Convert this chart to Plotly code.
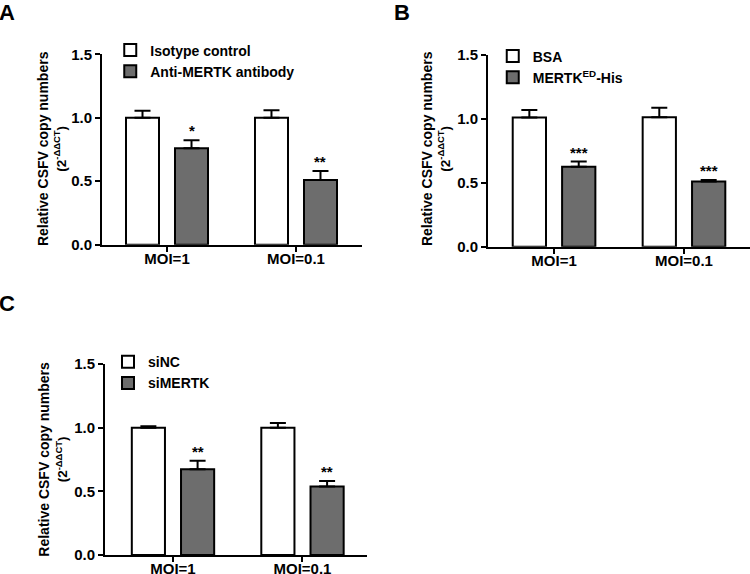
import plotly.graph_objects as go

# ---------------- data ----------------
categories = ["MOI=1", "MOI=0.1"]

a_names = ["Isotype control", "Anti-MERTK antibody"]
a_ctrl = [1.0, 1.0]
a_ctrl_err = [0.055, 0.06]
a_trt = [0.76, 0.51]
a_trt_err = [0.062, 0.07]
a_sig = ["*", "**"]

b_names = ["BSA", "MERTK<sup>ED</sup>-His"]
b_ctrl = [1.01, 1.012]
b_ctrl_err = [0.06, 0.076]
b_trt = [0.626, 0.51]
b_trt_err = [0.04, 0.012]
b_sig = ["***", "***"]

c_names = ["siNC", "siMERTK"]
c_ctrl = [1.0, 1.0]
c_ctrl_err = [0.01, 0.037]
c_trt = [0.673, 0.537]
c_trt_err = [0.068, 0.045]
c_sig = ["**", "**"]

y_ticks = [0, 0.5, 1.0, 1.5]
y_ticktext = ["0.0", "0.5", "1.0", "1.5"]
panel_labels = ["A", "B", "C"]
y_title = ("Relative CSFV copy numbers<br>"
           "<span style='font-size:13.5px'>(2<sup>-ΔΔCT</sup>)</span>")

# ---------------- styling ----------------
FONT = "Liberation Sans, Arial, sans-serif"
GRAY = "#6d6d6d"
BAR_W = 0.256
OFF_W = -0.318
OFF_G = 0.062

panels = [
    dict(names=a_names, ctrl=a_ctrl, ce=a_ctrl_err, trt=a_trt, te=a_trt_err, sig=a_sig,
         xa="x", ya="y", xdom=[0.136, 0.4827], ydom=[0.5737, 0.9054], xr=[-0.504, 1.512],
         legend="legend", lx=0.147, ly=0.94, label_xy=(0.0, 1.0),
         title_xy=(0.0693, 0.742)),
    dict(names=b_names, ctrl=b_ctrl, ce=b_ctrl_err, trt=b_trt, te=b_trt_err, sig=b_sig,
         xa="x2", ya="y2", xdom=[0.6507, 1.0], ydom=[0.5702, 0.9042], xr=[-0.508, 1.508],
         legend="legend2", lx=0.657, ly=0.9295, label_xy=(0.527, 1.0),
         title_xy=(0.5813, 0.742)),
    dict(names=c_names, ctrl=c_ctrl, ce=c_ctrl_err, trt=c_trt, te=c_trt_err, sig=c_sig,
         xa="x3", ya="y3", xdom=[0.14, 0.4893], ydom=[0.0331, 0.3659], xr=[-0.525, 1.498],
         legend="legend3", lx=0.144, ly=0.397, label_xy=(0.0, 0.493),
         title_xy=(0.0713, 0.2)),
]

fig = go.Figure()
layout = dict(
    width=750, height=574,
    margin=dict(l=0, r=0, t=0, b=0, autoexpand=False),
    paper_bgcolor="white", plot_bgcolor="white",
    font=dict(family=FONT, size=13, color="black", weight="bold"),
    barmode="overlay",
    showlegend=True,
)
annotations = []

for i, p in enumerate(panels):
    fig.add_trace(go.Bar(
        x=categories, y=p["ctrl"], name=p["names"][0],
        width=BAR_W, offset=OFF_W,
        marker=dict(color="white", line=dict(color="black", width=2)),
        error_y=dict(type="data", array=p["ce"], arrayminus=[0] * len(p["ce"]),
                     symmetric=False, color="black", thickness=2, width=8),
        xaxis=p["xa"], yaxis=p["ya"], legend=p["legend"],
    ))
    fig.add_trace(go.Bar(
        x=categories, y=p["trt"], name=p["names"][1],
        width=BAR_W, offset=OFF_G,
        marker=dict(color=GRAY, line=dict(color="black", width=2)),
        error_y=dict(type="data", array=p["te"], arrayminus=[0] * len(p["te"]),
                     symmetric=False, color="black", thickness=2, width=8),
        xaxis=p["xa"], yaxis=p["ya"], legend=p["legend"],
    ))
    xkey = "xaxis" + ("" if i == 0 else str(i + 1))
    ykey = "yaxis" + ("" if i == 0 else str(i + 1))
    layout[xkey] = dict(
        domain=p["xdom"], anchor=p["ya"], range=p["xr"], type="category",
        automargin=False,
        showline=True, linecolor="black", linewidth=2,
        ticks="outside", ticklen=5, tickwidth=2, tickcolor="black",
        ticklabelstandoff=-6,
        tickfont=dict(size=15, family=FONT, weight="bold"),
        showgrid=False, zeroline=False, fixedrange=True,
    )
    layout[ykey] = dict(
        domain=p["ydom"], anchor=p["xa"], range=[0, 1.5],
        automargin=False,
        tickvals=y_ticks, ticktext=y_ticktext,
        showline=True, linecolor="black", linewidth=2,
        ticks="outside", ticklen=5, tickwidth=2, tickcolor="black",
        tickfont=dict(size=15, family=FONT, weight="bold"),
        showgrid=False, zeroline=False, fixedrange=True,
    )
    layout[p["legend"]] = dict(
        x=p["lx"], y=p["ly"], xanchor="left", yanchor="top",
        bgcolor="rgba(0,0,0,0)", borderwidth=0,
        font=dict(size=14, family=FONT, weight="bold"),
        tracegroupgap=0, itemclick=False,
    )
    # y-axis title (two lines, rotated)
    annotations.append(dict(
        x=p["title_xy"][0], y=p["title_xy"][1], xref="paper", yref="paper",
        xanchor="center", yanchor="middle", textangle=-90, text=y_title,
        showarrow=False, font=dict(size=14, family=FONT, weight="bold"),
    ))
    # significance stars over treated bars
    for j, s in enumerate(p["sig"]):
        annotations.append(dict(
            x=j + OFF_G + BAR_W / 2, y=p["trt"][j] + p["te"][j],
            xref=p["xa"], yref=p["ya"], text=s, showarrow=False,
            yanchor="bottom", yshift=-1,
            font=dict(size=15, family=FONT, weight="bold"),
        ))
    # panel label
    annotations.append(dict(
        x=p["label_xy"][0], y=p["label_xy"][1], xref="paper", yref="paper",
        xanchor="left", yanchor="top", text=panel_labels[i], showarrow=False,
        xshift=-3, yshift=2,
        font=dict(size=22, family=FONT, weight="bold"),
    ))

layout["annotations"] = annotations
fig.update_layout(**layout)
fig.write_html("out.html", config={"displayModeBar": False},
               post_script="document.body.style.margin='0';")
